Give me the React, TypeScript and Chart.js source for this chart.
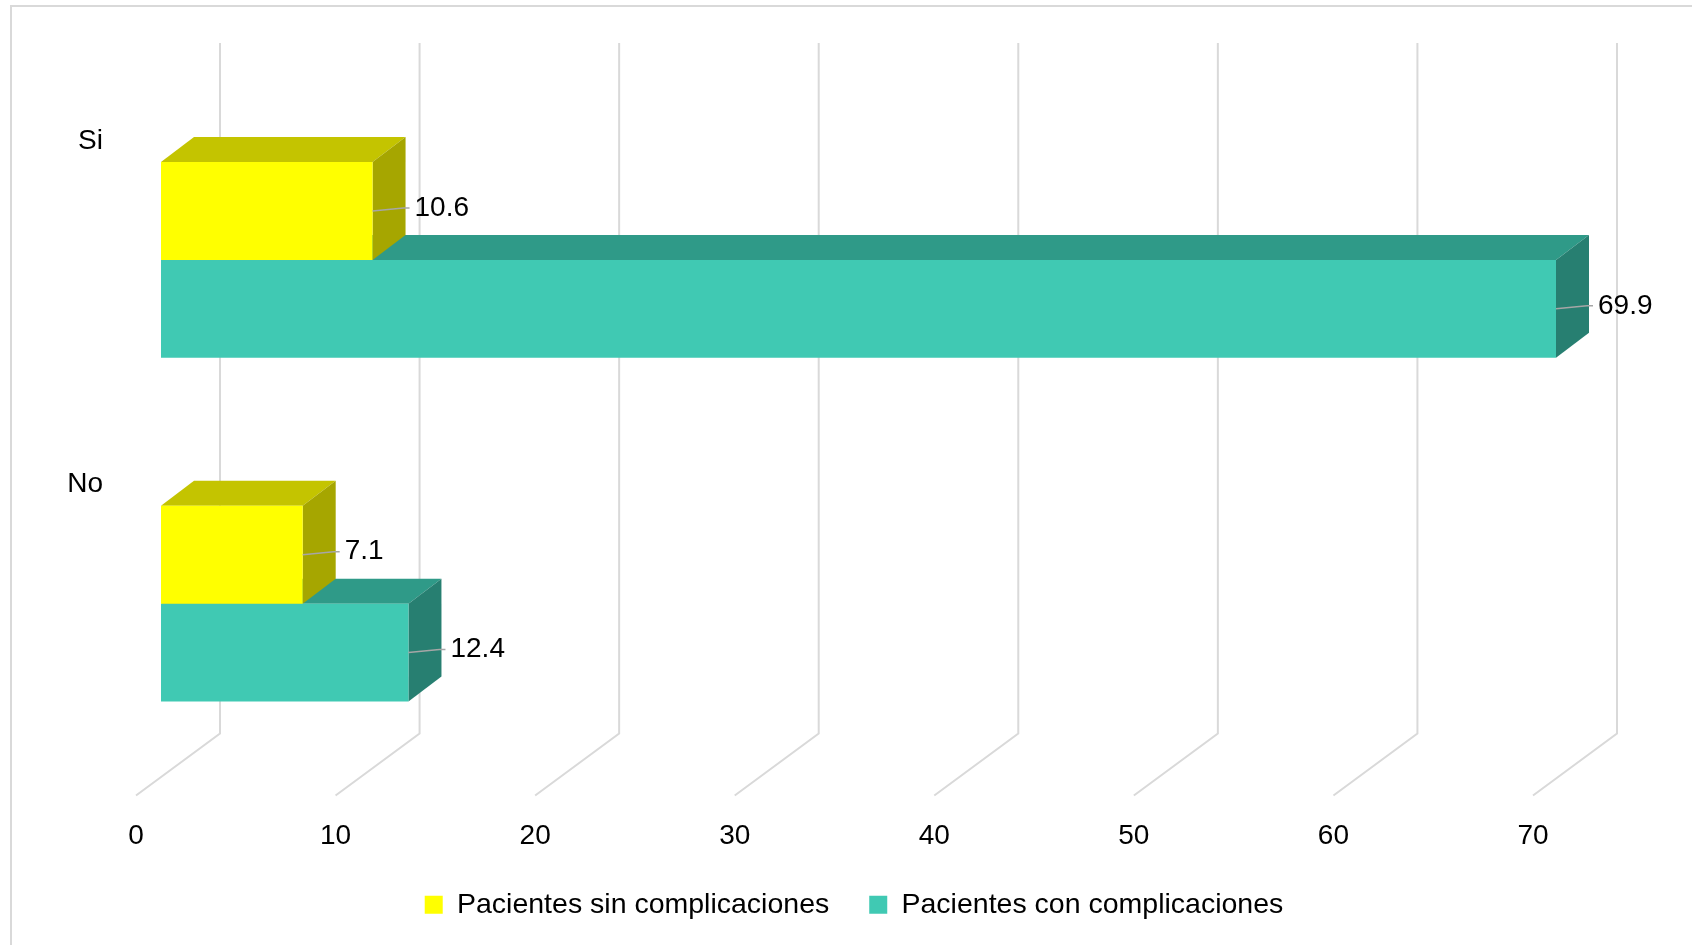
import React, { useEffect, useRef } from 'react';
import { Chart, registerables } from 'chart.js';

Chart.register(...registerables);

// ---- data ----
const categories = ['Si', 'No'];
const seriesNames = ['Pacientes sin complicaciones', 'Pacientes con complicaciones'];
const sinComplicaciones = [10.6, 7.1];
const conComplicaciones = [69.9, 12.4];
const xTickMin = 0;
const xTickMax = 70;
const xTickStep = 10;

// ---- style ----
const FONT = "'Liberation Sans', Arial, sans-serif";
const FONT_SIZE = 28;
const faceColors = [
  { front: '#FFFF00', top: '#C4C400', side: '#A6A600' },
  { front: '#40C9B3', top: '#2F9A88', side: '#277F71' },
];
const DX = 33; // bar depth, x
const DY = 25; // bar depth, y
const WALL_DX = 59; // back wall offset
const FLOOR_DX = -25; // front floor offset
const GRID = '#D9D9D9';
const PAD_LEFT = 16;

const threeD = {
  id: 'threeD',
  beforeDatasetsDraw(chart: any) {
    const { ctx, chartArea, scales } = chart;
    const x = scales.x;
    ctx.save();
    ctx.strokeStyle = GRID;
    ctx.lineWidth = 2;
    x.ticks.forEach((t: any) => {
      const px = x.getPixelForValue(t.value);
      const bx = px + WALL_DX;
      ctx.beginPath();
      ctx.moveTo(bx, chartArea.top - 45);
      ctx.lineTo(bx, chartArea.bottom - 42);
      ctx.lineTo(px + FLOOR_DX, chartArea.bottom + 20);
      ctx.stroke();
    });
    // faces: draw later datasets first so upper bars' side faces overlay
    for (let i = chart.data.datasets.length - 1; i >= 0; i--) {
      const meta = chart.getDatasetMeta(i);
      const c = faceColors[i];
      meta.data.forEach((el: any) => {
        const p = el.getProps(['x', 'y', 'base', 'height'], true);
        const top = p.y - p.height / 2;
        const bot = p.y + p.height / 2;
        ctx.fillStyle = c.top;
        ctx.beginPath();
        ctx.moveTo(p.base, top);
        ctx.lineTo(p.x, top);
        ctx.lineTo(p.x + DX, top - DY);
        ctx.lineTo(p.base + DX, top - DY);
        ctx.closePath();
        ctx.fill();
        ctx.fillStyle = c.side;
        ctx.beginPath();
        ctx.moveTo(p.x, top);
        ctx.lineTo(p.x, bot);
        ctx.lineTo(p.x + DX, bot - DY);
        ctx.lineTo(p.x + DX, top - DY);
        ctx.closePath();
        ctx.fill();
      });
    }
    ctx.restore();
  },
  afterDatasetsDraw(chart: any) {
    const { ctx } = chart;
    ctx.save();
    ctx.font = `${FONT_SIZE}px ${FONT}`;
    ctx.fillStyle = '#000';
    ctx.textAlign = 'left';
    ctx.textBaseline = 'middle';
    ctx.strokeStyle = '#A6A6A6';
    ctx.lineWidth = 1.5;
    chart.data.datasets.forEach((ds: any, i: number) => {
      const meta = chart.getDatasetMeta(i);
      meta.data.forEach((el: any, j: number) => {
        const p = el.getProps(['x', 'y'], true);
        const ly = p.y - 3;
        ctx.beginPath();
        ctx.moveTo(p.x, p.y);
        ctx.lineTo(p.x + DX - 2, ly);
        ctx.lineTo(p.x + DX + 4, ly);
        ctx.stroke();
        ctx.fillText(Number(ds.data[j]).toFixed(1), p.x + 42, ly);
      });
    });
    ctx.restore();
  },
};

export default function App() {
  const ref = useRef<HTMLCanvasElement>(null);
  useEffect(() => {
    if (!ref.current) return;
    const font = { family: FONT, size: FONT_SIZE };
    const chart = new Chart(ref.current, {
      type: 'bar',
      data: {
        labels: categories,
        datasets: [
          {
            label: seriesNames[0],
            data: sinComplicaciones,
            backgroundColor: faceColors[0].front,
            borderWidth: 0,
            barPercentage: 1,
            categoryPercentage: 0.57,
          },
          {
            label: seriesNames[1],
            data: conComplicaciones,
            backgroundColor: faceColors[1].front,
            borderWidth: 0,
            barPercentage: 1,
            categoryPercentage: 0.57,
          },
        ],
      },
      options: {
        indexAxis: 'y',
        responsive: false,
        animation: false,
        devicePixelRatio: 1,
        layout: { padding: { top: 88, left: PAD_LEFT, right: 0, bottom: 16 } },
        scales: {
          x: {
            type: 'linear',
            min: xTickMin,
            max: xTickMax,
            ticks: { stepSize: xTickStep, font, color: '#000', padding: 44, labelOffset: -25 },
            grid: { display: false, drawTicks: false },
            border: { display: false },
            afterFit: (s: any) => { s.height = 75; },
          },
          y: {
            position: 'left',
            ticks: { font, color: '#000', padding: 58, labelOffset: -119 },
            grid: { display: false, drawTicks: false },
            border: { display: false },
            afterFit: (s: any) => { s.width = 161 - PAD_LEFT; },
          },
          yRight: {
            type: 'category',
            position: 'right',
            ticks: { display: false },
            grid: { display: false, drawTicks: false },
            border: { display: false },
            afterFit: (s: any) => { s.width = 134; },
          },
        },
        plugins: {
          legend: {
            position: 'bottom',
            labels: { boxWidth: 18, boxHeight: 18, padding: 40, color: '#000', font: { family: FONT, size: 28.5 } },
          },
          tooltip: { enabled: false },
        },
      },
      plugins: [threeD],
    } as any);
    return () => chart.destroy();
  }, []);
  return (
    <div style={{ position: 'fixed', left: 0, top: 0, width: 1692, height: 945, overflow: 'hidden', background: '#fff' }}>
      <div style={{ position: 'absolute', left: 10, top: 5, width: 1800, height: 1000, border: '2px solid #D9D9D9' }} />
      <canvas ref={ref} width={1692} height={945} style={{ position: 'absolute', left: 0, top: 0, width: 1692, height: 945 }} />
    </div>
  );
}
